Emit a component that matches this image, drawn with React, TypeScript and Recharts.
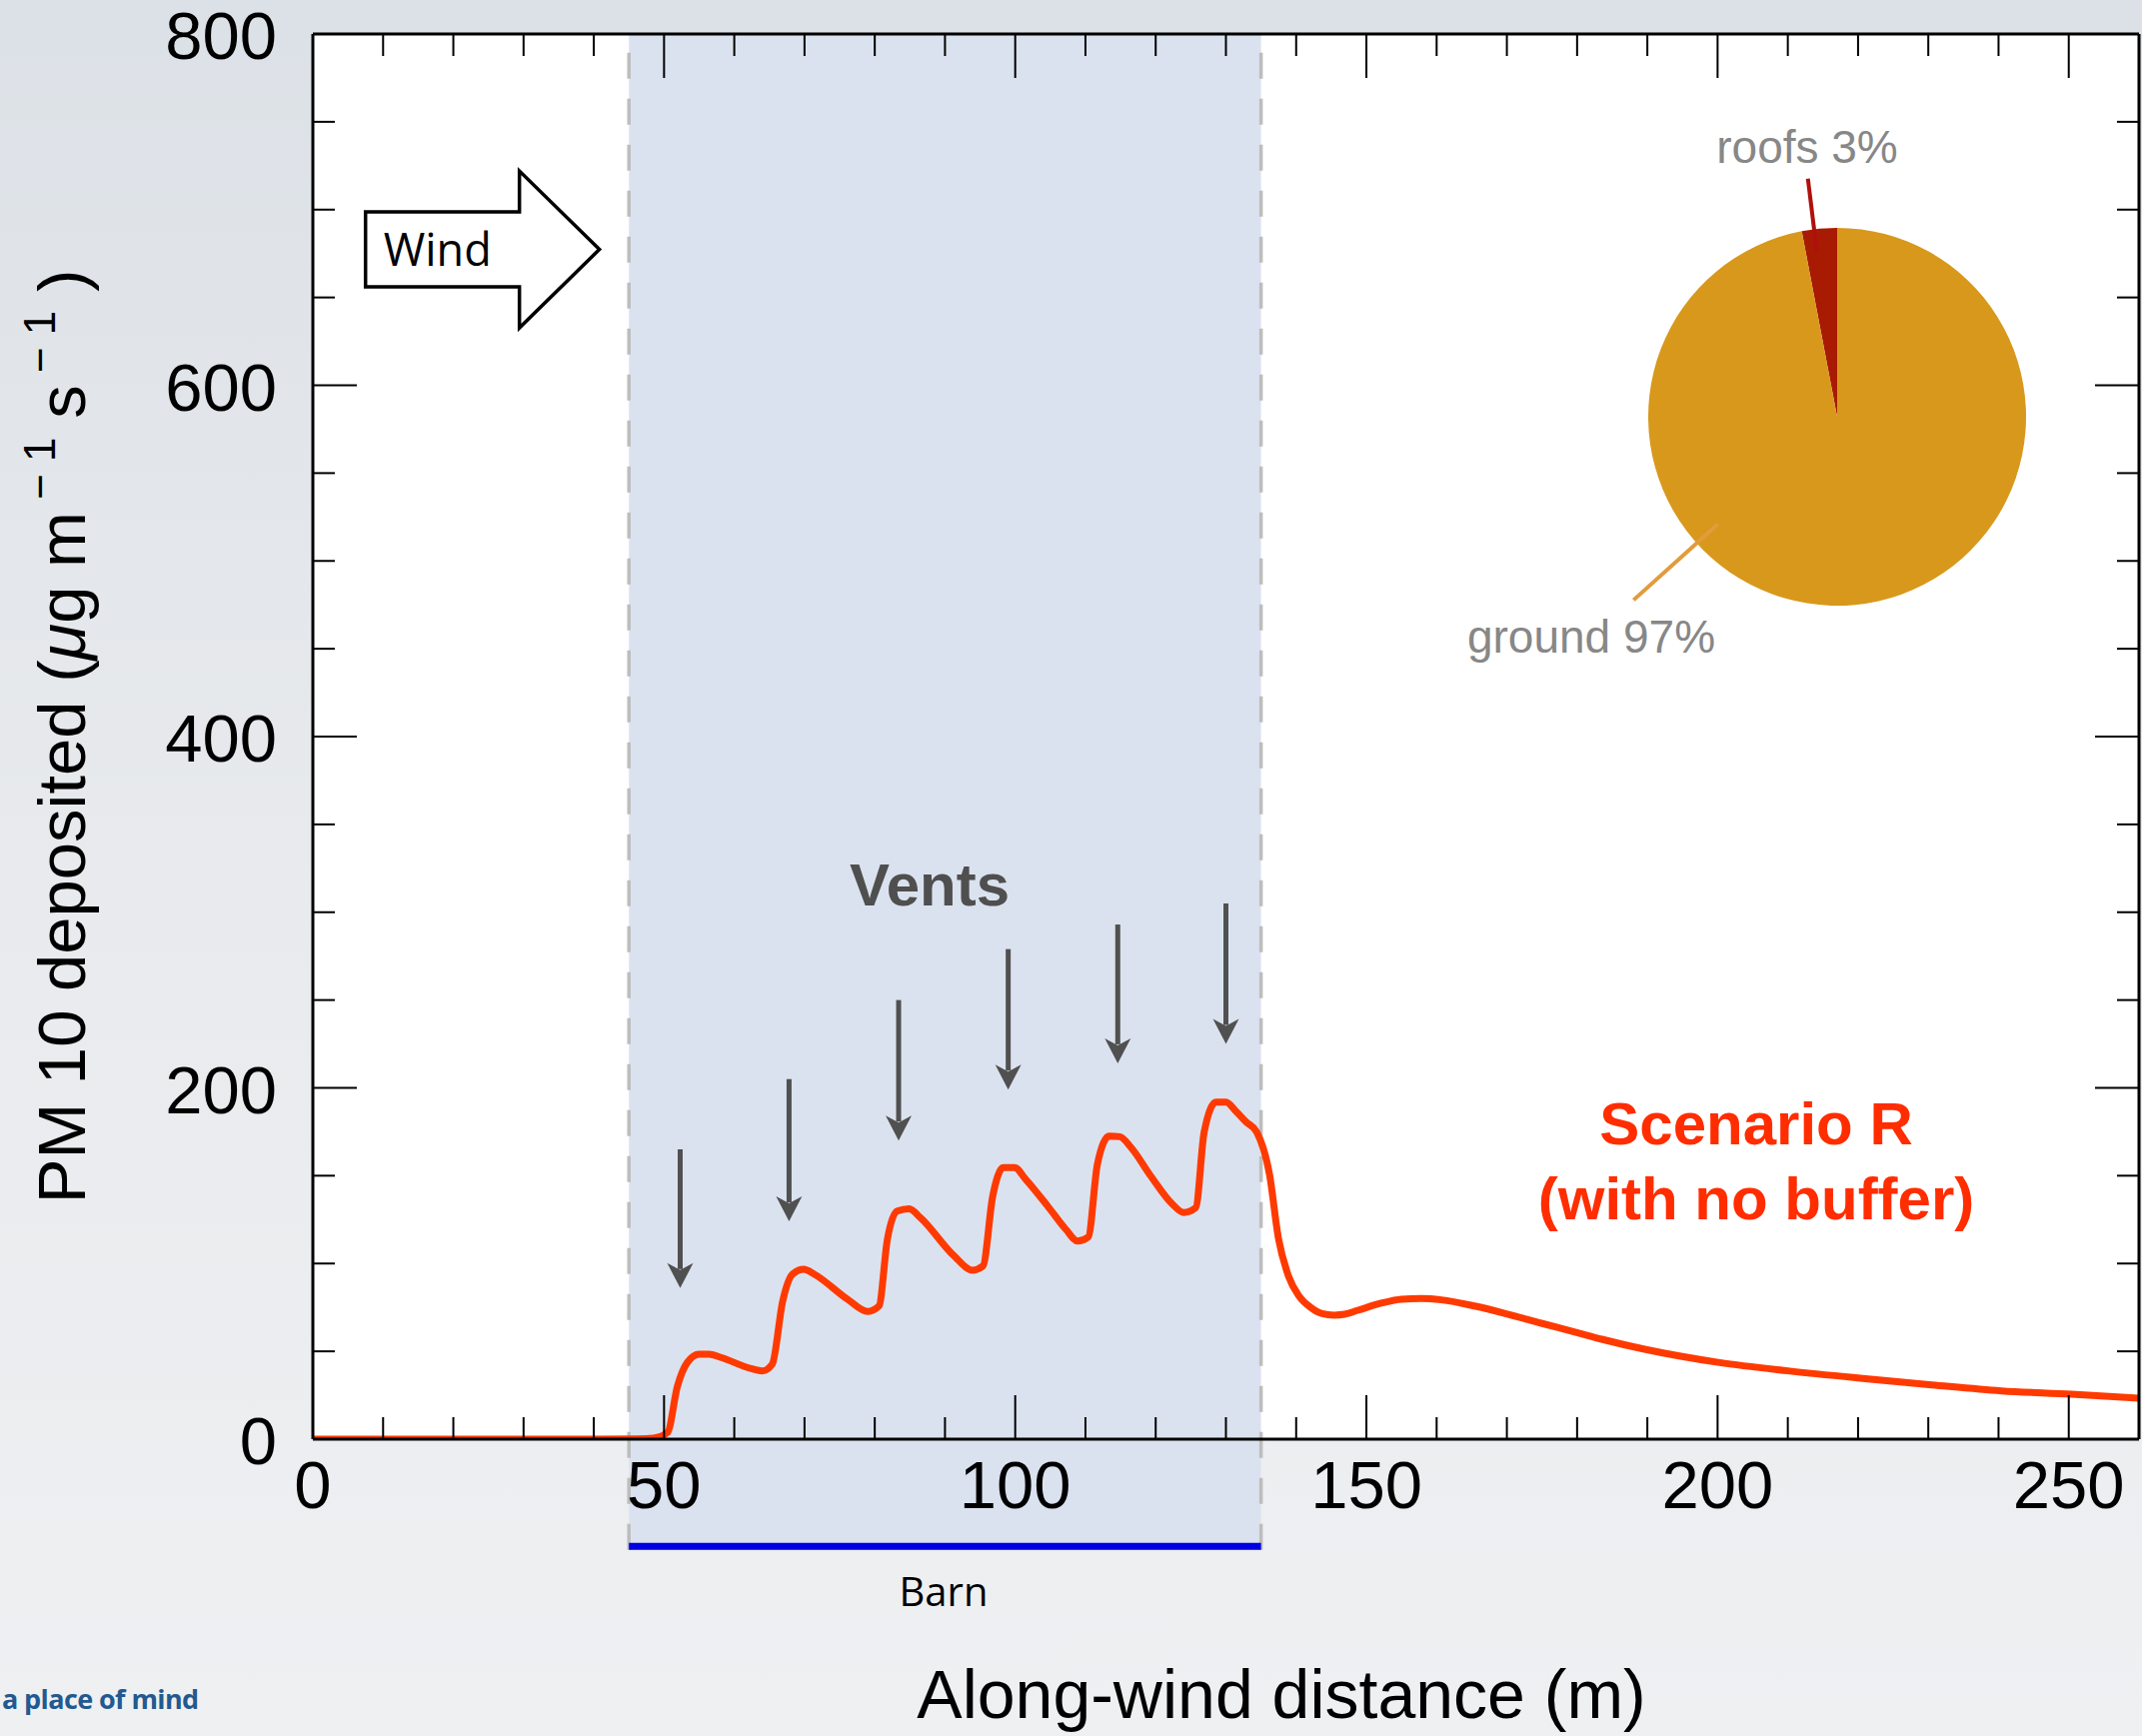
import {
  ComposedChart,
  Line,
  XAxis,
  YAxis,
  ReferenceArea,
  ReferenceLine,
  ReferenceDot,
  PieChart,
  Pie,
  Cell,
} from 'recharts'

// along-wind profile, scenario R (no buffer)
const distance = [
  0, 10, 20, 30, 40, 46, 48.5, 50.5, 51.9, 53.3, 55, 56.4, 58.1, 62.4, 64, 65.4,
  66.9, 68.3, 69.9, 71.4, 76.1, 79, 80.6, 81.8, 83.2, 84.9, 86.5, 91.3, 93.9, 95.4,
  96.8, 98.3, 99.9, 101.5, 104.6, 107.2, 108.9, 110.4, 111.7, 113.4, 114.9, 116.5,
  119.3, 122.4, 124, 125.7, 126.9, 128.6, 130, 131.4, 132.9, 134.4, 136.2, 137.5,
  138.9, 140.4, 142.1, 143.7, 145.4, 146.9, 148.8, 152.1, 155, 157.8, 160.7, 165.4,
  170.2, 174.9, 179.7, 183.5, 189.6, 200.3, 210, 220.3, 230.5, 240.4, 250.4, 260,
]
const deposited = [
  0, 0, 0, 0, 0, 0.2, 0.6, 3.8, 30, 43.6, 48.4, 48.4, 46.5, 40.2, 38.9, 42.7,
  78.7, 93.9, 96.7, 93.9, 79.7, 72.7, 75.8, 113.8, 129.9, 131.2, 126.1, 104.3, 96.2, 98.6,
  138.4, 154.6, 154.6, 147.9, 132.8, 119.5, 112.8, 115.1, 156.5, 172.6, 172.2, 166,
  149.8, 133.7, 129, 131.8, 174.8, 191.9, 191.9, 186.8, 180.5, 174.8, 150.8, 113.8,
  92.9, 81.5, 74.9, 71.5, 70.6, 71.1, 73.4, 77.4, 79.7, 80.1, 79.3, 75.8,
  71.1, 66, 61, 56.9, 51.2, 43.6, 38.9, 34.7, 30.9, 27.5, 25.6, 23.3,
]

const xTicks = [0, 10, 20, 30, 40, 50, 60, 70, 80, 90, 100, 110, 120, 130, 140, 150, 160, 170, 180, 190, 200, 210, 220, 230, 240, 250, 260]
const yTicks = [0, 50, 100, 150, 200, 250, 300, 350, 400, 450, 500, 550, 600, 650, 700, 750, 800]

// vent arrows: x position, tail and tip values
const ventX   = [52.3, 67.8, 83.4, 99, 114.6, 130]
const ventTop = [165, 205, 250, 279, 293, 305]
const ventTip = [86, 124, 170, 199, 214, 225]

const barnStart = 45
const barnEnd   = 135

const pieNames  = ['roofs', 'ground']
const pieShares = [3, 97]

const rows = distance.map((x, i) => ({ x, y: deposited[i] }))
const pieData = pieNames.map((name, i) => ({ name, value: pieShares[i] }))

const FONT = '"Liberation Sans", Arial, Helvetica, sans-serif'
const MYRIAD = '"Open Sans", "Noto Sans", sans-serif'
const LINE_RED = '#ff3a00'
const TEXT_RED = '#ff2d00'
const ARROW = '#505050'
const PIE_COLORS = ['#a81a02', '#d8981b']

const MAJOR = 44
const MINOR = 22

function BottomTick({ x, y, payload }: any) {
  const v = payload.value
  const major = v % 50 === 0
  return (
    <g>
      <line x1={x} x2={x} y1={y} y2={y - (major ? MAJOR : MINOR)} stroke="#000" strokeWidth={2} />
      {major && (
        <text x={x} y={y + 69} textAnchor="middle" fontSize={67} fontFamily={FONT} fill="#000">{v}</text>
      )}
    </g>
  )
}

function TopTick({ x, y, payload }: any) {
  const major = payload.value % 50 === 0
  return <line x1={x} x2={x} y1={y} y2={y + (major ? MAJOR : MINOR)} stroke="#000" strokeWidth={2} />
}

function LeftTick({ x, y, payload }: any) {
  const v = payload.value
  const major = v % 200 === 0
  return (
    <g>
      <line x1={x} x2={x + (major ? MAJOR : MINOR)} y1={y} y2={y} stroke="#000" strokeWidth={2} />
      {major && (
        <text x={x - 36} y={y + 25} textAnchor="end" fontSize={67} fontFamily={FONT} fill="#000">{v}</text>
      )}
    </g>
  )
}

function RightTick({ x, y, payload }: any) {
  const major = payload.value % 200 === 0
  return <line x1={x} x2={x - (major ? MAJOR : MINOR)} y1={y} y2={y} stroke="#000" strokeWidth={2} />
}

function YTitle({ viewBox }: any) {
  const tx = viewBox.x + 85
  const ty = viewBox.y + viewBox.height / 2
  return (
    <text x={tx} y={ty} transform={`rotate(-90 ${tx} ${ty})`} textAnchor="middle" fontSize={67} fontFamily={FONT} fill="#000">
      PM 10 deposited (<tspan fontStyle="italic">μ</tspan>g m
      <tspan dy={-30} fontSize={44}>{' \u2212 1'}</tspan>
      <tspan dy={30}>{'  s'}</tspan>
      <tspan dy={-30} fontSize={44}>{' \u2212 1'}</tspan>
      <tspan dy={30}>{' )'}</tspan>
    </text>
  )
}

function XTitle({ viewBox }: any) {
  return (
    <text x={viewBox.x + 969} y={viewBox.y + 279} textAnchor="middle" fontSize={68} fontFamily={FONT} fill="#000">
      Along-wind distance (m)
    </text>
  )
}

function VentArrow({ x1, y1, x2, y2 }: any) {
  const head = 25
  const half = 13
  return (
    <g>
      <line x1={x1} y1={y1} x2={x2} y2={y2 - head + 6} stroke={ARROW} strokeWidth={5} />
      <polygon
        points={`${x2 - half},${y2 - head} ${x2},${y2} ${x2 + half},${y2 - head} ${x2},${y2 - head + 7}`}
        fill={ARROW}
      />
    </g>
  )
}

function WindArrow({ x, y, width, height }: any) {
  const bodyEnd = x + width * 0.658
  const top = y + height * 0.261
  const bottom = y + height * 0.739
  const mid = y + height / 2
  const pts = [
    [x, top], [bodyEnd, top], [bodyEnd, y], [x + width, mid],
    [bodyEnd, y + height], [bodyEnd, bottom], [x, bottom],
  ].map(p => p.join(',')).join(' ')
  return (
    <g>
      <polygon points={pts} fill="#fff" stroke="#000" strokeWidth={3.5} strokeLinejoin="miter" />
      <text x={x + 18} y={y + 95} fontSize={45} fontFamily={MYRIAD} fill="#000">Wind</text>
    </g>
  )
}

const textAt = (label: string, size: number, color: string, weight = 'normal', family = FONT) =>
  (p: any) => (
    <text x={p.cx} y={p.cy} textAnchor="middle" fontSize={size} fontWeight={weight} fontFamily={family} fill={color}>
      {label}
    </text>
  )

const PIE_LABELS: Record<string, { angle: number; r0: number; r1: number; dx: number; dy: number; line: string }> = {
  roofs:  { angle: 97,  r0: 0.88, r1: 1.27, dx: -30,  dy: -254, line: '#b0100c' },
  ground: { angle: 222, r0: 0.85, r1: 1.45, dx: -246, dy: 236,  line: '#e29b3d' },
}

function PieLabel(props: any) {
  const { cx, cy, outerRadius, percent } = props
  const name = props.name ?? props.payload?.name
  const cfg = PIE_LABELS[name]
  if (!cfg) return null
  const rad = (cfg.angle * Math.PI) / 180
  const px = (r: number) => cx + Math.cos(rad) * r * outerRadius
  const py = (r: number) => cy - Math.sin(rad) * r * outerRadius
  return (
    <g>
      <line x1={px(cfg.r0)} y1={py(cfg.r0)} x2={px(cfg.r1)} y2={py(cfg.r1)} stroke={cfg.line} strokeWidth={4} />
      <text x={cx + cfg.dx} y={cy + cfg.dy} textAnchor="middle" fontSize={46} fontFamily={FONT} fill="#878787">
        {`${name} ${Math.round(percent * 100)}%`}
      </text>
    </g>
  )
}

export default function App() {
  return (
    <div
      style={{
        position: 'absolute',
        left: 0,
        top: 0,
        width: 2143,
        height: 1737,
        overflow: 'hidden',
        background: 'linear-gradient(180deg, #dce1e7 0%, #e8eaed 50%, #eff0f2 100%)',
      }}
    >
      <ComposedChart width={2143} height={1737} data={rows} margin={{ top: 0, right: 0, bottom: 0, left: 0 }}>
        <ReferenceArea x1={0} x2={260} y1={0} y2={800} fill="#fff" fillOpacity={1} stroke="none" />
        <ReferenceArea
          x1={barnStart} x2={barnEnd} y1={-63} y2={800}
          fill="#dbe2ef" fillOpacity={1} stroke="none" ifOverflow="visible"
        />
        <ReferenceLine
          segment={[{ x: barnStart, y: -63 }, { x: barnStart, y: 800 }]}
          stroke="#bdbdbd" strokeWidth={3.5} strokeDasharray="26 20" ifOverflow="visible"
        />
        <ReferenceLine
          segment={[{ x: barnEnd, y: -63 }, { x: barnEnd, y: 800 }]}
          stroke="#bdbdbd" strokeWidth={3.5} strokeDasharray="26 20" ifOverflow="visible"
        />
        <ReferenceLine
          segment={[{ x: barnStart, y: -61 }, { x: barnEnd, y: -61 }]}
          stroke="#0000e0" strokeWidth={7} ifOverflow="visible"
        />
        <ReferenceArea x1={7.5} x2={40.8} y1={632.7} y2={722} ifOverflow="visible" shape={WindArrow} />

        <XAxis
          type="number" dataKey="x" domain={[0, 260]} ticks={xTicks} interval={0} allowDataOverflow
          height={297} tickSize={0} tickMargin={0} tickLine={false} tick={<BottomTick />}
          axisLine={{ stroke: '#000', strokeWidth: 3 }} label={XTitle}
        />
        <XAxis
          xAxisId="top" orientation="top" type="number" dataKey="x" domain={[0, 260]} ticks={xTicks}
          interval={0} allowDataOverflow
          height={34} tickSize={0} tickMargin={0} tickLine={false} tick={<TopTick />}
          axisLine={{ stroke: '#000', strokeWidth: 3 }}
        />
        <YAxis
          type="number" domain={[0, 800]} ticks={yTicks} interval={0} allowDataOverflow
          width={313} tickSize={0} tickMargin={0} tickLine={false} tick={<LeftTick />}
          axisLine={{ stroke: '#000', strokeWidth: 3 }} label={YTitle}
        />
        <YAxis
          yAxisId="right" orientation="right" type="number" dataKey="y" domain={[0, 800]} ticks={yTicks}
          interval={0} allowDataOverflow
          width={3} tickSize={0} tickMargin={0} tickLine={false} tick={<RightTick />}
          axisLine={{ stroke: '#000', strokeWidth: 3 }}
        />

        {ventX.map((vx, i) => (
          <ReferenceLine
            key={vx}
            segment={[{ x: vx, y: ventTop[i] }, { x: vx, y: ventTip[i] }]}
            shape={VentArrow}
          />
        ))}

        <ReferenceDot x={87.8} y={304} ifOverflow="visible" shape={textAt('Vents', 60, '#4f4f4f', 'bold')} />
        <ReferenceDot x={205.5} y={167.9} ifOverflow="visible" shape={textAt('Scenario R', 60, TEXT_RED, 'bold')} />
        <ReferenceDot x={205.5} y={125.2} ifOverflow="visible" shape={textAt('(with no buffer)', 60, TEXT_RED, 'bold')} />
        <ReferenceDot x={89.8} y={-95} ifOverflow="visible" shape={textAt('Barn', 40, '#000', 'normal', MYRIAD)} />

        <Line
          type="monotone" dataKey="y" stroke={LINE_RED} strokeWidth={7}
          dot={false} activeDot={false} isAnimationActive={false}
        />
      </ComposedChart>

      <div style={{ position: 'absolute', left: 1388, top: 17 }}>
        <PieChart width={900} height={800} margin={{ top: 0, right: 0, bottom: 0, left: 0 }}>
          <Pie
            data={pieData} dataKey="value" nameKey="name"
            cx={450} cy={400} outerRadius={189} startAngle={90} endAngle={450}
            stroke="none" label={PieLabel} labelLine={false} isAnimationActive={false}
          >
            {pieData.map((d, i) => <Cell key={d.name} fill={PIE_COLORS[i]} />)}
          </Pie>
        </PieChart>
      </div>

      <svg width={260} height={60} style={{ position: 'absolute', left: 0, top: 1670 }}>
        <text x={2} y={40} fontSize={27} fontWeight="bold" fontFamily={MYRIAD} fill="#23598f" letterSpacing={-0.6}>
          a place of mind
        </text>
      </svg>
    </div>
  )
}
